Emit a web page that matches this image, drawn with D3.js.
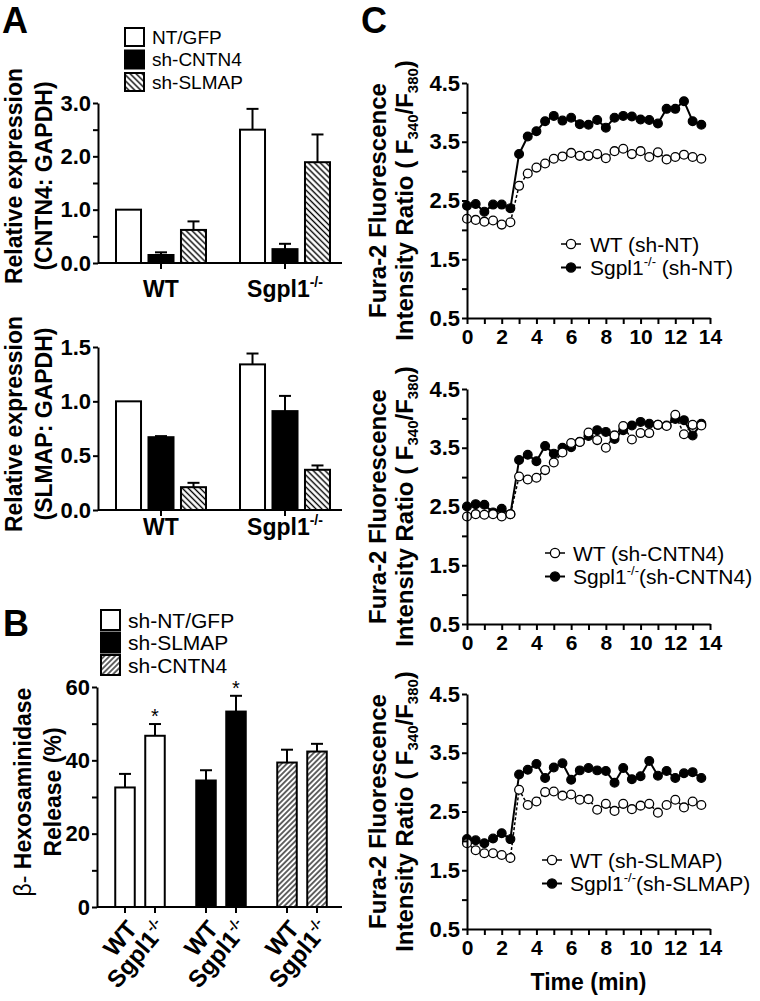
<!DOCTYPE html>
<html><head><meta charset="utf-8">
<script src="https://cdn.jsdelivr.net/npm/d3@7"></script>
<style>body{margin:0;background:#fff}svg{display:block}</style>
</head><body><svg id="c" width="760" height="1001"></svg>
<script>
// ---------- DATA ----------
// Panel A (relative expression), groups and series
const aGroups = ["WT", "Sgpl1"];
const aSeries = ["NT/GFP", "sh-CNTN4", "sh-SLMAP"];
// CNTN4:GAPDH
const cntn4Mean = { "NT/GFP": [1.00, 2.50], "sh-CNTN4": [0.15, 0.26], "sh-SLMAP": [0.62, 1.89] };
const cntn4Err  = { "NT/GFP": [0.00, 0.39], "sh-CNTN4": [0.05, 0.10], "sh-SLMAP": [0.16, 0.52] };
// SLMAP:GAPDH
const slmapMean = { "NT/GFP": [1.00, 1.34], "sh-CNTN4": [0.67, 0.91], "sh-SLMAP": [0.21, 0.37] };
const slmapErr  = { "NT/GFP": [0.00, 0.10], "sh-CNTN4": [0.01, 0.14], "sh-SLMAP": [0.04, 0.04] };
const aTopTicks = [0, 0.5, 1, 1.5, 2, 2.5, 3];
const aBotTicks = [0, 0.5, 1, 1.5];

// Panel B (beta-hexosaminidase release)
const bGroups = ["sh-NT/GFP", "sh-SLMAP", "sh-CNTN4"];
const bGeno = ["WT", "Sgpl1"];
const bMean = { "sh-NT/GFP": [32.6, 46.7], "sh-SLMAP": [34.5, 53.3], "sh-CNTN4": [39.4, 42.4] };
const bErr  = { "sh-NT/GFP": [3.7, 3.2],   "sh-SLMAP": [2.8, 4.3],   "sh-CNTN4": [3.5, 2.1] };
const bSig  = { "sh-NT/GFP": [false, true], "sh-SLMAP": [false, true], "sh-CNTN4": [false, false] };
const bTicks = [0, 10, 20, 30, 40, 50, 60];

// Panel C (Fura-2 ratio time courses)
const times = [0,0.5,1,1.5,2,2.5,3,3.5,4,4.5,5,5.5,6,6.5,7,7.5,8,8.5,9,9.5,10,10.5,11,11.5,12,12.5,13,13.5];
const ntWT    = [2.19,2.17,2.14,2.16,2.09,2.13,2.75,2.96,3.06,3.13,3.21,3.25,3.31,3.26,3.26,3.29,3.22,3.34,3.38,3.29,3.34,3.24,3.32,3.20,3.24,3.28,3.24,3.21];
const ntKO    = [2.41,2.44,2.31,2.43,2.43,2.37,3.29,3.59,3.68,3.85,3.94,3.86,3.91,3.80,3.79,3.87,3.74,3.91,3.94,3.93,3.88,3.87,3.81,4.06,4.06,4.19,3.85,3.79];
const cntn4WT = [2.33,2.37,2.36,2.37,2.33,2.37,3.01,2.96,2.99,3.12,3.25,3.42,3.58,3.60,3.76,3.63,3.50,3.71,3.87,3.64,3.75,3.75,3.89,3.87,4.06,3.73,3.89,3.88];
const cntn4KO = [2.50,2.54,2.53,2.40,2.46,2.37,3.29,3.38,3.27,3.53,3.40,3.50,3.51,3.60,3.70,3.80,3.77,3.65,3.80,3.88,3.94,3.91,3.89,3.88,3.99,3.97,3.71,3.91];
const slmapWT = [1.96,1.84,1.79,1.79,1.76,1.71,2.87,2.61,2.67,2.83,2.84,2.77,2.79,2.70,2.71,2.53,2.63,2.51,2.63,2.54,2.60,2.63,2.48,2.61,2.70,2.57,2.67,2.61];
const slmapKO = [2.03,2.01,1.96,2.04,2.13,2.03,3.13,3.21,3.31,3.07,3.25,3.32,3.04,3.20,3.24,3.20,3.19,2.99,3.24,3.05,3.10,3.36,3.11,3.19,3.07,3.15,3.17,3.07];
const cYTicks = [0.5,1,1.5,2,2.5,3,3.5,4,4.5];
const cYMajor = [0.5,1.5,2.5,3.5,4.5];
const cXTicks = [0,1,2,3,4,5,6,7,8,9,10,11,12,13,14];
const cLegends = [["WT (sh-NT)", " (sh-NT)"], ["WT (sh-CNTN4)", "(sh-CNTN4)"], ["WT (sh-SLMAP)", "(sh-SLMAP)"]];

// ---------- DRAWING ----------
const FONT = '"Liberation Sans", Arial, Helvetica, sans-serif';
const svg = d3.select("#c").attr("font-family", FONT);
const defs = svg.append("defs");
function hatch(id, size, angle, sw) {
  const p = defs.append("pattern").attr("id", id).attr("patternUnits", "userSpaceOnUse")
    .attr("width", size).attr("height", size).attr("patternTransform", `rotate(${angle})`);
  p.append("rect").attr("width", size).attr("height", size).attr("fill", "#fff");
  p.append("line").attr("x1", size / 2).attr("x2", size / 2).attr("y1", -1).attr("y2", size + 1)
    .attr("stroke", "#000").attr("stroke-width", sw);
}
hatch("hatchA", 4.2, -45, 1.4);
hatch("hatchB", 3.8, 45, 1.2);

function styleAxis(g, fs) {
  g.attr("font-family", FONT).attr("font-size", fs).attr("font-weight", "bold");
  g.select(".domain").attr("stroke", "#000").attr("stroke-width", 2);
  g.selectAll(".tick line").attr("stroke", "#000").attr("stroke-width", 2);
  g.selectAll(".tick text").attr("fill", "#000");
}
function sgpl(textSel, fs, tail) {
  textSel.append("tspan").text("Sgpl1");
  const sup = Math.round(fs * 0.6), shift = fs * 0.42;
  textSel.append("tspan").attr("font-size", sup).attr("dy", -shift).text("-/-");
  if (tail) textSel.append("tspan").attr("dy", shift).text(tail);
}
function rotLabel(x, cy, lines) {
  lines.forEach(L => {
    const t = svg.append("text").attr("transform", `translate(${L.x},${cy}) rotate(-90)`)
      .attr("text-anchor", "middle").attr("font-size", L.fs);
    L.parts.forEach(p => {
      const ts = t.append("tspan").text(p.t);
      if (p.w) ts.attr("font-weight", p.w);
      if (p.fs) ts.attr("font-size", p.fs);
      if (p.dy) ts.attr("dy", p.dy);
    });
  });
}

// ---- Panel letters
svg.append("text").attr("x", 2).attr("y", 33).attr("font-size", 36).attr("font-weight", "bold").text("A");
svg.append("text").attr("x", 3).attr("y", 636).attr("font-size", 36).attr("font-weight", "bold").text("B");
svg.append("text").attr("x", 361).attr("y", 33).attr("font-size", 36).attr("font-weight", "bold").text("C");

// ---- Panel A
const aFill = { "NT/GFP": "#fff", "sh-CNTN4": "#000", "sh-SLMAP": "url(#hatchA)" };
const gxA = d3.scaleBand().domain(aGroups).range([99, 347]);
const ixA = d3.scaleBand().domain(aSeries).range([17, 107]).paddingInner(0.23);

function barPanelA(yRange, domainMax, ticks, fmt, mean, err, yCat, labLines, labCy) {
  const y = d3.scaleLinear().domain([0, domainMax]).range(yRange);
  const g = svg.append("g");
  aGroups.forEach((grp, gi) => {
    aSeries.forEach(s => {
      const x0 = gxA(grp) + ixA(s), w = ixA.bandwidth(), cx = x0 + w / 2;
      const v = mean[s][gi], e = err[s][gi];
      if (e > 0) {
        g.append("line").attr("x1", cx).attr("x2", cx).attr("y1", y(v)).attr("y2", y(v + e)).attr("stroke", "#000").attr("stroke-width", 2);
        g.append("line").attr("x1", cx - 6).attr("x2", cx + 6).attr("y1", y(v + e)).attr("y2", y(v + e)).attr("stroke", "#000").attr("stroke-width", 2);
      }
      g.append("rect").attr("x", x0).attr("y", y(v)).attr("width", w).attr("height", y(0) - y(v))
        .attr("fill", aFill[s]).attr("stroke", "#000").attr("stroke-width", 2);
    });
  });
  const ya = svg.append("g").attr("transform", "translate(98,0)")
    .call(d3.axisLeft(y).tickValues(ticks).tickFormat(fmt).tickSize(5).tickSizeOuter(0).tickPadding(2));
  styleAxis(ya, 22);
  const xa = svg.append("g").attr("transform", `translate(0,${y(0)})`)
    .call(d3.axisBottom(gxA).tickFormat("").tickSize(6).tickSizeOuter(0));
  styleAxis(xa, 22);
  xa.select(".domain").attr("d", "M98,0H342");
  aGroups.forEach(grp => {
    const t = svg.append("text").attr("x", gxA(grp) + gxA.bandwidth() / 2).attr("y", yCat)
      .attr("text-anchor", "middle").attr("font-size", 23).attr("font-weight", "bold");
    if (grp === "WT") t.text("WT"); else sgpl(t, 23);
  });
  rotLabel(0, labCy, labLines);
}
barPanelA([263, 103], 3, aTopTicks, d => (d % 1 === 0 ? d.toFixed(1) : ""), cntn4Mean, cntn4Err, 297,
  [{ x: 22, fs: 23, parts: [{ t: "Relative expression", w: "bold" }] },
   { x: 52, fs: 23, parts: [{ t: "(CNTN4: GAPDH)", w: "bold" }] }], 176);
barPanelA([510, 347], 1.5, aBotTicks, d => d.toFixed(1), slmapMean, slmapErr, 535,
  [{ x: 22, fs: 23, parts: [{ t: "Relative expression", w: "bold" }] },
   { x: 52, fs: 23, parts: [{ t: "(SLMAP: GAPDH)", w: "bold" }] }], 424);

// legend A
const legA = svg.append("g");
aSeries.forEach((s, i) => {
  const cy = 37 + i * 22.5;
  legA.append("rect").attr("x", 125).attr("y", cy - 9).attr("width", 19).attr("height", 18)
    .attr("fill", aFill[s]).attr("stroke", "#000").attr("stroke-width", 2);
  legA.append("text").attr("x", 152).attr("y", cy).attr("dy", "0.36em").attr("font-size", 19).text(s);
});

// ---- Panel B
const bFill = { "sh-NT/GFP": "#fff", "sh-SLMAP": "#000", "sh-CNTN4": "url(#hatchB)" };
const gxB = d3.scaleBand().domain(bGroups).range([99.5, 342.5]);
const ixB = d3.scaleBand().domain(bGeno).range([15.75, 65.25]).paddingInner(0.35);
const yB = d3.scaleLinear().domain([0, 60]).range([907, 687]);
const gB = svg.append("g");
bGroups.forEach(grp => {
  bGeno.forEach((k, ki) => {
    const x0 = gxB(grp) + ixB(k), w = ixB.bandwidth(), cx = x0 + w / 2;
    const v = bMean[grp][ki], e = bErr[grp][ki];
    gB.append("line").attr("x1", cx).attr("x2", cx).attr("y1", yB(v)).attr("y2", yB(v + e)).attr("stroke", "#000").attr("stroke-width", 2);
    gB.append("line").attr("x1", cx - 6).attr("x2", cx + 6).attr("y1", yB(v + e)).attr("y2", yB(v + e)).attr("stroke", "#000").attr("stroke-width", 2);
    gB.append("rect").attr("x", x0).attr("y", yB(v)).attr("width", w).attr("height", yB(0) - yB(v))
      .attr("fill", bFill[grp]).attr("stroke", "#000").attr("stroke-width", 2);
    if (bSig[grp][ki]) gB.append("text").attr("x", cx).attr("y", yB(v + e) - 1).attr("text-anchor", "middle")
      .attr("font-size", 20).text("*");
    gB.append("line").attr("x1", cx).attr("x2", cx).attr("y1", yB(0)).attr("y2", yB(0) + 6).attr("stroke", "#000").attr("stroke-width", 2);
    const t = gB.append("text").attr("transform", `translate(${cx + 7},${yB(0) + 17}) rotate(-50)`)
      .attr("text-anchor", "end").attr("dy", "0.35em").attr("font-size", 24).attr("font-weight", "bold");
    if (k === "WT") t.text("WT"); else sgpl(t, 24);
  });
});
const yaB = svg.append("g").attr("transform", "translate(97,0)")
  .call(d3.axisLeft(yB).tickValues(bTicks).tickFormat(d => (d % 20 === 0 ? d : "")).tickSize(5).tickSizeOuter(0).tickPadding(2));
styleAxis(yaB, 22);
svg.append("line").attr("x1", 97).attr("x2", 342).attr("y1", yB(0)).attr("y2", yB(0)).attr("stroke", "#000").attr("stroke-width", 2);
rotLabel(0, 792, [
  { x: 31, fs: 23, parts: [{ t: "β- ", w: "normal" }, { t: "Hexosaminidase", w: "bold" }] },
  { x: 61, fs: 23, parts: [{ t: "Release (%)", w: "bold" }] }]);
const legB = svg.append("g");
bGroups.forEach((s, i) => {
  const cy = 620 + i * 22.5;
  legB.append("rect").attr("x", 101).attr("y", cy - 10).attr("width", 19).attr("height", 20)
    .attr("fill", bFill[s]).attr("stroke", "#000").attr("stroke-width", 2);
  legB.append("text").attr("x", 128).attr("y", cy).attr("dy", "0.36em").attr("font-size", 21).text(s);
});

// ---- Panel C
const xC = d3.scaleLinear().domain([0, 14]).range([467, 710]);
const cPanels = [
  { top: 83, wt: ntWT, ko: ntKO, leg: cLegends[0], lx: 571, tx: 590, ly: 244 },
  { top: 389, wt: cntn4WT, ko: cntn4KO, leg: cLegends[1], lx: 555, tx: 573, ly: 553 },
  { top: 694, wt: slmapWT, ko: slmapKO, leg: cLegends[2], lx: 552, tx: 570, ly: 860 }
];
cPanels.forEach(P => {
  const y = d3.scaleLinear().domain([0.5, 4.5]).range([P.top + 235, P.top]);
  const g = svg.append("g");
  const line = d3.line().x((d, i) => xC(times[i])).y(d => y(d));
  g.append("path").datum(P.ko).attr("d", line).attr("fill", "none").attr("stroke", "#000").attr("stroke-width", 2);
  g.append("path").datum(P.wt).attr("d", line).attr("fill", "none").attr("stroke", "#000").attr("stroke-width", 1.5).attr("stroke-dasharray", "3,2");
  g.selectAll(".ko").data(P.ko).join("circle").attr("cx", (d, i) => xC(times[i])).attr("cy", d => y(d))
    .attr("r", 4.4).attr("fill", "#000").attr("stroke", "#000").attr("stroke-width", 1.2);
  g.selectAll(".wt").data(P.wt).join("circle").attr("cx", (d, i) => xC(times[i])).attr("cy", d => y(d))
    .attr("r", 4.4).attr("fill", "#fff").attr("stroke", "#000").attr("stroke-width", 1.3);
  const ya = svg.append("g").attr("transform", "translate(467,0)")
    .call(d3.axisLeft(y).tickValues(cYTicks).tickFormat(d => (cYMajor.includes(d) ? d.toFixed(1) : "")).tickSize(5).tickSizeOuter(0).tickPadding(2));
  styleAxis(ya, 22);
  const xa = svg.append("g").attr("transform", `translate(0,${P.top + 235})`)
    .call(d3.axisBottom(xC).tickValues(cXTicks).tickFormat(d => (d % 2 === 0 ? d : "")).tickSize(6).tickSizeOuter(0).tickPadding(5));
  styleAxis(xa, 21);
  const lg = svg.append("g");
  [0, 1].forEach(r => {
    const cy = P.ly + r * 23.5;
    lg.append("line").attr("x1", P.lx - 10).attr("x2", P.lx + 10).attr("y1", cy).attr("y2", cy)
      .attr("stroke", "#000").attr("stroke-width", r ? 2 : 1.5);
    lg.append("circle").attr("cx", P.lx).attr("cy", cy).attr("r", 4.6)
      .attr("fill", r ? "#000" : "#fff").attr("stroke", "#000").attr("stroke-width", 1.3);
    const t = lg.append("text").attr("x", P.tx).attr("y", cy).attr("dy", "0.36em").attr("font-size", 21);
    if (r === 0) t.text(P.leg[0]); else sgpl(t, 21, P.leg[1]);
  });
  rotLabel(0, P.top + 117.5, [
    { x: 386, fs: 24, parts: [{ t: "Fura-2 Fluorescence", w: "bold" }] },
    { x: 413, fs: 24, parts: [{ t: "Intensity Ratio ( F", w: "bold" }, { t: "340", w: "bold", fs: 15, dy: 5 },
      { t: "/F", w: "bold", dy: -5 }, { t: "380", w: "bold", fs: 15, dy: 5 }, { t: ")", w: "bold", dy: -5 }] }]);
});
svg.append("text").attr("x", xC(7)).attr("y", 990).attr("text-anchor", "middle").attr("font-size", 23)
  .attr("font-weight", "bold").text("Time (min)");
</script></body></html>
